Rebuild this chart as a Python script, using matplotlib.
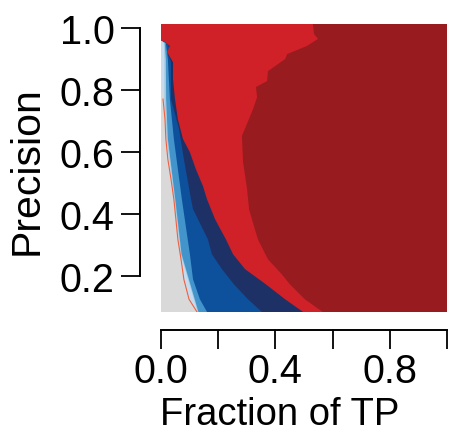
import numpy as np
import matplotlib.pyplot as plt

plt.rcParams['font.family'] = ['Liberation Sans', 'DejaVu Sans']

# extent of the precision grid
y_top, y_bot = 1.013, 0.085

# contour level boundaries, listed top to bottom (precision -> fraction of TP)
grey_y = [y_top, 0.932, 0.900, 0.835, 0.771, 0.706, 0.642, 0.577, 0.513, 0.448, 0.384, 0.319, 0.255, 0.190, 0.126, y_bot]
grey_x = [0.0, 0.0, 0.002, 0.003, 0.007, 0.014, 0.017, 0.024, 0.035, 0.045, 0.052, 0.059, 0.070, 0.080, 0.098, 0.126]

pale_y = [y_top, 0.961, 0.952, 0.900, 0.771, 0.642, 0.448, 0.271, y_bot]
pale_x = [0.0, 0.0, 0.010, 0.012, 0.012, 0.020, 0.047, 0.069, 0.128]

mid_y = [y_top, 0.961, 0.952, 0.900, 0.771, 0.642, 0.448, 0.271, y_bot]
mid_x = [0.0, 0.0, 0.013, 0.017, 0.018, 0.024, 0.050, 0.072, 0.131]

blue_y = [y_top, 0.961, 0.952, 0.900, 0.771, 0.642, 0.448, 0.271, 0.190, 0.126, y_bot]
blue_x = [0.0, 0.0, 0.017, 0.024, 0.031, 0.045, 0.073, 0.101, 0.112, 0.136, 0.161]

navy_y = [y_top, 0.961, 0.952, 0.939, 0.916, 0.890, 0.771, 0.674, 0.577, 0.448, 0.416, 0.319, 0.271, 0.223, 0.174, 0.126, y_bot]
navy_x = [0.0, 0.0, 0.021, 0.028, 0.024, 0.035, 0.035, 0.063, 0.080, 0.105, 0.112, 0.164, 0.178, 0.213, 0.255, 0.304, 0.353]

red_y = [y_top, 0.961, 0.955, 0.942, 0.923, 0.890, 0.835, 0.771, 0.706, 0.642, 0.600, 0.545, 0.490, 0.448, 0.384, 0.319, 0.271, 0.223, 0.174, 0.126, y_bot]
red_x = [0.0, 0.0, 0.014, 0.031, 0.021, 0.042, 0.042, 0.049, 0.059, 0.077, 0.101, 0.122, 0.147, 0.161, 0.189, 0.227, 0.252, 0.294, 0.367, 0.434, 0.497]

dark_y = [y_top, 0.981, 0.965, 0.942, 0.916, 0.900, 0.861, 0.829, 0.810, 0.777, 0.739, 0.652, 0.568, 0.481, 0.416, 0.384, 0.319, 0.255, 0.206, 0.174, 0.126, y_bot]
dark_x = [0.531, 0.535, 0.549, 0.510, 0.441, 0.434, 0.374, 0.371, 0.332, 0.336, 0.322, 0.283, 0.287, 0.301, 0.308, 0.318, 0.339, 0.374, 0.423, 0.451, 0.503, 0.566]

levels = [
    (grey_x, grey_y, '#c6dbef'),
    (pale_x, pale_y, '#9ecae1'),
    (mid_x, mid_y, '#4394cb'),
    (blue_x, blue_y, '#0d519d'),
    (navy_x, navy_y, '#1e3167'),
    (red_x, red_y, '#cf2127'),
    (dark_x, dark_y, '#981b1f'),
]

fig = plt.figure(figsize=(4.5, 4.35), dpi=100)
ax = fig.add_axes([161 / 450, 122 / 435, 286 / 450, 288 / 435])
ax.set_facecolor('#d9d9d9')

# each level fills from its boundary to the right edge, stacked in order
for bx, by, c in levels:
    xs = list(bx) + [1.0, 1.0]
    ys = list(by) + [y_bot, y_top]
    ax.fill(xs, ys, color=c, lw=0)

# thin edge of the lowest level
ax.plot(grey_x[4:], grey_y[4:], color='#f0603f', lw=0.8)

ax.set_xlim(0, 1)
ax.set_ylim(y_bot, y_top)

for s in ['top', 'right']:
    ax.spines[s].set_visible(False)
ax.spines['left'].set_position(('outward', 15))
ax.spines['bottom'].set_position(('outward', 13))
ax.spines['left'].set_bounds(0.2, 1.0)
ax.spines['bottom'].set_bounds(0, 1.0)
for s in ['left', 'bottom']:
    ax.spines[s].set_linewidth(1.4)

ax.set_xticks(np.arange(0, 1.01, 0.2))
ax.set_xticklabels(['0.0', '', '0.4', '', '0.8', ''])
ax.set_yticks(np.arange(0.2, 1.01, 0.2))
ax.set_yticklabels(['0.2', '0.4', '0.6', '0.8', '1.0'])
ax.tick_params(axis='both', length=13.5, width=1.3, labelsize=28.5)
ax.tick_params(axis='y', pad=5)
ax.tick_params(axis='x', pad=2)

ax.set_xlabel('Fraction of TP', fontsize=27.5)
ax.xaxis.set_label_coords(0.416, -0.29)
ax.set_ylabel('Precision', fontsize=29.5)
ax.yaxis.set_label_coords(-0.405, 0.495)

fig.savefig('out.png', dpi=100)
